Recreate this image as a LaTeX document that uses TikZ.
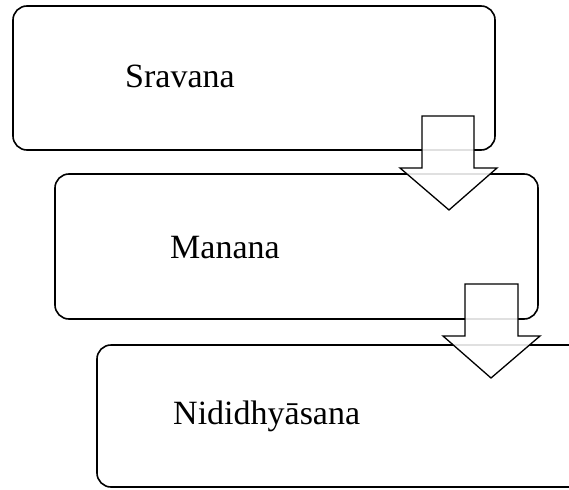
\documentclass[tikz,border=0pt]{standalone}
\usepackage{fontspec}
\setmainfont{Liberation Serif}
\tikzset{
  stage/.style={draw, line width=1.6pt, rounded corners=14pt, anchor=north west, inner sep=0pt, outer sep=0pt},
  stagelabel/.style={anchor=base west, inner sep=0pt, font=\fontsize{34}{40}\selectfont},
  flowarrow/.style={draw, line width=1.3pt, fill=white, fill opacity=0.88, line join=miter}
}
\begin{document}
\begin{tikzpicture}[x=1pt, y=-1pt]
  \useasboundingbox (0,0) rectangle (569,489);
  \clip (0,0) rectangle (569,489);

  % the three stages
  \node[stage, minimum width=482pt, minimum height=144pt] (sravana) at (13,6) {};
  \node[stage, minimum width=483pt, minimum height=145pt] (manana) at (55,174) {};
  \node[stage, minimum width=490pt, minimum height=142pt] (nididhyasana) at (97,345) {};

  \node[stagelabel] (sravanatext) at (125,88) {Sravana};
  \node[stagelabel] (mananatext) at (170,258) {Manana};
  \node[stagelabel] (nididhyasanatext) at (173,424) {Nididhyāsana};

  % block arrows between the stages
  \draw[flowarrow] (422,116) -- (474,116) -- (474,168) -- (497,168) -- (449,210)
    -- (400,168) -- (422,168) -- cycle;
  \draw[flowarrow] (465,284) -- (518,284) -- (518,336) -- (540,336) -- (491,378)
    -- (443,336) -- (465,336) -- cycle;
\end{tikzpicture}
\end{document}
